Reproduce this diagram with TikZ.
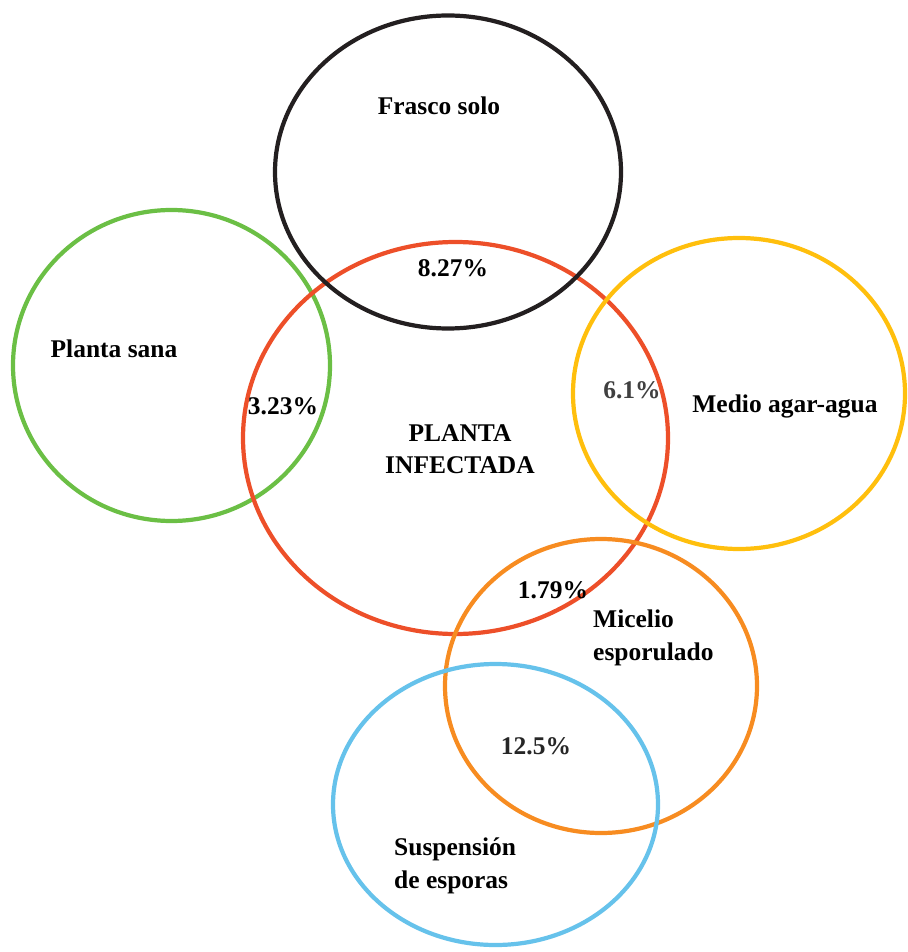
\documentclass[tikz,border=0pt]{standalone}
\usepackage{fontspec}
\setmainfont{Liberation Serif}
\usetikzlibrary{shapes.geometric, positioning}
\definecolor{vennblack}{rgb}{0.137, 0.122, 0.125}
\definecolor{venngreen}{rgb}{0.42, 0.75, 0.27}
\definecolor{vennred}{rgb}{0.93, 0.31, 0.16}
\definecolor{vennyellow}{rgb}{1.0, 0.75, 0.05}
\definecolor{vennorange}{rgb}{0.97, 0.55, 0.13}
\definecolor{vennblue}{rgb}{0.40, 0.76, 0.92}

\begin{document}
\begin{tikzpicture}[x=0.02cm, y=-0.02cm, every node/.style={font=\fontsize{14.5}{18.5}\selectfont\bfseries},
    set/.style={draw, ellipse, line width=2.4pt, inner sep=0pt}]
        \useasboundingbox (0,0) rectangle (907,952);
        \begin{scope}
            \foreach \n/\c/\x/\y/\w/\h in {sana/venngreen/171.5/365.5/317/311,
                infectada/vennred/455.5/438/425/392,
                frasco/vennblack/448/172/346/313,
                agar/vennyellow/739/393.5/332/311,
                micelio/vennorange/601/686/312/294,
                esporas/vennblue/495.5/804.5/325/281}{
                \node[set, draw=\c, minimum width=\w*0.02cm, minimum height=\h*0.02cm] (\n) at (\x,\y) {};
            }
        \end{scope}
        \begin{scope}
            \node (Lfrasco) at (439,106) {Frasco solo};
            \node (Lsana) at (114,349) {Planta sana};
            \node[align=center] (Linfectada) at (460,449) {PLANTA\\INFECTADA};
            \node (Lagar) at (785,406) {Medio agar-agua};
            \node[align=left, anchor=west] (Lmicelio) at (587,638) {Micelio\\esporulado};
            \node[align=left, anchor=west] (Lesporas) at (388,866) {Suspensión\\de esporas};

            \node (P1) at (453,268) {8.27\%};
            \node (P2) at (283,406) {3.23\%};
            \node[text=black!75] (P3) at (632,390) {6.1\%};
            \node (P4) at (553,590) {1.79\%};
            \node[text=black!85] (P5) at (536,746) {12.5\%};
        \end{scope}
    \end{tikzpicture}
\end{document}
